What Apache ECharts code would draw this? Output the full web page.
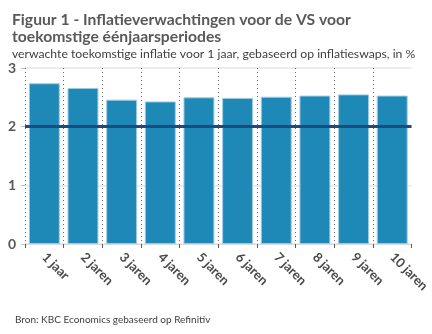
<!DOCTYPE html>
<html><head><meta charset="utf-8">
<script src="https://cdn.jsdelivr.net/npm/echarts@6/dist/echarts.min.js"></script>
<style>html,body{margin:0;padding:0;background:#fff}#c{width:432px;height:334px}</style>
</head><body><div id="c"></div>
<script>
const categories = ['1 jaar','2 jaren','3 jaren','4 jaren','5 jaren','6 jaren','7 jaren','8 jaren','9 jaren','10 jaren'];
const values = [2.74, 2.66, 2.46, 2.43, 2.50, 2.49, 2.51, 2.53, 2.55, 2.53];
const targetLevel = 2;
const yTicks = [0, 1, 2, 3];
const titleText = 'Figuur 1 - Inflatieverwachtingen voor de VS voor\ntoekomstige éénjaarsperiodes';
const subtitleText = 'verwachte toekomstige inflatie voor 1 jaar, gebaseerd op inflatieswaps, in %';
const sourceText = 'Bron: KBC Economics gebaseerd op Refinitiv';

const font = 'Lato, "Noto Sans", sans-serif';
const chart = echarts.init(document.getElementById('c'), null, {renderer: 'canvas'});
chart.setOption({
  animation: false,
  title: [
    {text: titleText, left: 7, top: 6, textStyle: {fontFamily: font, fontSize: 15.7, fontWeight: 'bold', color: '#595959', lineHeight: 17}},
    {text: subtitleText, left: 7, top: 43, textStyle: {fontFamily: font, fontSize: 12.2, fontWeight: 'normal', color: '#404040'}},
    {text: sourceText, left: 10, top: 310, textStyle: {fontFamily: font, fontSize: 10, fontWeight: 'normal', color: '#404040'}}
  ],
  grid: {left: 25, right: 16, top: 68, bottom: 90, containLabel: false},
  xAxis: {
    type: 'category', data: categories,
    axisLine: {show: true, lineStyle: {color: '#d9d9d9', width: 1}},
    axisTick: {show: true, length: 4, lineStyle: {color: '#595959'}},
    splitLine: {show: true, showMaxLine: false, lineStyle: {color: '#6b6b6b', type: [1, 3], width: 1}},
    axisLabel: {rotate: -45, margin: 11, fontFamily: font, fontSize: 13, fontWeight: 'bold', color: '#4a4a4a'}
  },
  yAxis: {
    type: 'value', min: yTicks[0], max: yTicks[yTicks.length - 1], interval: 1,
    axisLine: {show: false},
    axisTick: {show: true, length: 4, lineStyle: {color: '#bfbfbf'}},
    splitLine: {show: true, lineStyle: {color: '#e6e6e6', width: 1.5}},
    axisLabel: {margin: 9, fontFamily: font, fontSize: 14, fontWeight: 'bold', color: '#595959'}
  },
  series: [{
    type: 'bar', data: values, barCategoryGap: '20%',
    itemStyle: {color: '#1e88b6', borderColor: '#9fcbe3', borderWidth: 1},
    markLine: {
      silent: true, symbol: 'none', label: {show: false},
      lineStyle: {color: '#1f4a80', width: 3, type: 'solid'},
      data: [{yAxis: targetLevel}]
    }
  }]
});
</script></body></html>
